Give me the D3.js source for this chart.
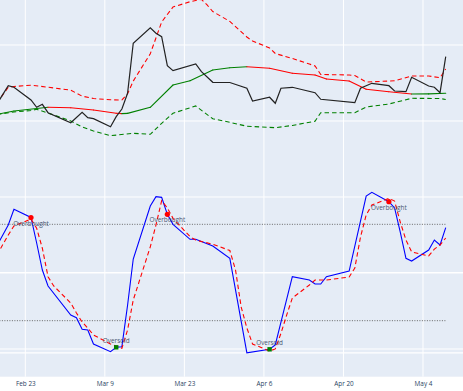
<!DOCTYPE html>
<html><head><meta charset="utf-8">
<script src="https://cdn.jsdelivr.net/npm/d3@7"></script>
<style>body{margin:0;background:#fff}svg{display:block}</style>
</head><body><svg id="c" width="463" height="391"></svg>
<script>
// ---------- data ----------
const priceDates = ["2025-02-18","2025-02-20","2025-02-21","2025-02-24","2025-02-25","2025-02-26","2025-02-27","2025-03-03","2025-03-05","2025-03-06","2025-03-07","2025-03-10","2025-03-11","2025-03-12","2025-03-13","2025-03-14","2025-03-17","2025-03-18","2025-03-19","2025-03-20","2025-03-21","2025-03-25","2025-03-26","2025-03-28","2025-03-31","2025-04-03","2025-04-04","2025-04-07","2025-04-08","2025-04-09","2025-04-11","2025-04-15","2025-04-16","2025-04-22","2025-04-23","2025-04-25","2025-04-28","2025-04-29","2025-05-01","2025-05-02","2025-05-05","2025-05-06","2025-05-07","2025-05-08"];
const price = [104.47,109.29,108.87,105.53,103.61,104.39,102.18,99.55,102.29,100.87,100.61,98.5,101.13,103.16,107.29,120.45,124.55,123.08,122.18,114.55,113.24,115.0,112.97,110.18,110.13,108.61,105.26,106.24,104.66,108.61,108.87,107.45,105.71,104.82,108.61,109.92,109.29,107.89,107.71,111.5,109.21,108.87,107.45,116.92];

const maDates = ["2025-02-18","2025-02-21","2025-02-25","2025-02-27","2025-03-03","2025-03-07","2025-03-11","2025-03-12","2025-03-13","2025-03-17","2025-03-21","2025-03-24","2025-03-28","2025-03-31","2025-04-03","2025-04-07","2025-04-11","2025-04-15","2025-04-17","2025-04-21","2025-04-24","2025-04-28","2025-05-02","2025-05-05","2025-05-08"];
const ma = [101.76,102.63,103.29,103.61,103.5,102.89,102.03,101.95,102.0,103.61,109.47,110.61,113.42,114.03,114.29,113.87,112.55,112.11,111.05,110.53,108.34,107.71,107.11,107.13,107.29];

const upperDates = ["2025-02-18","2025-02-20","2025-02-21","2025-02-24","2025-02-27","2025-03-03","2025-03-05","2025-03-07","2025-03-10","2025-03-12","2025-03-13","2025-03-14","2025-03-17","2025-03-19","2025-03-21","2025-03-24","2025-03-26","2025-03-27","2025-03-28","2025-03-31","2025-04-03","2025-04-04","2025-04-07","2025-04-08","2025-04-11","2025-04-14","2025-04-15","2025-04-16","2025-04-21","2025-04-22","2025-04-24","2025-04-29","2025-05-02","2025-05-05","2025-05-07","2025-05-08"];
const upper = [104.74,108.87,109.08,109.42,108.89,108.11,106.53,105.92,105.58,105.53,107.16,110.5,117.7,126.05,130.0,131.39,132.0,130.53,128.8,126.2,122.1,121.05,119.21,117.76,116.45,115.0,114.47,112.24,112.11,111.97,110.26,110.58,111.84,111.84,111.39,113.68];

const lowerDates = ["2025-02-18","2025-02-21","2025-02-24","2025-02-25","2025-02-28","2025-03-03","2025-03-05","2025-03-07","2025-03-10","2025-03-14","2025-03-17","2025-03-19","2025-03-21","2025-03-25","2025-03-28","2025-03-31","2025-04-03","2025-04-08","2025-04-11","2025-04-15","2025-04-16","2025-04-22","2025-04-24","2025-04-28","2025-05-02","2025-05-07","2025-05-08"];
const lower = [101.71,102.37,102.76,103.08,101.58,100.0,98.42,97.37,96.13,96.76,96.5,99.39,102.03,103.95,100.58,99.66,98.61,98.24,98.82,99.95,102.18,102.18,103.68,104.47,105.97,105.92,105.66];

const kDates = ["2025-02-18","2025-02-20","2025-02-21","2025-02-24","2025-02-25","2025-02-26","2025-02-27","2025-03-03","2025-03-04","2025-03-05","2025-03-06","2025-03-07","2025-03-10","2025-03-11","2025-03-12","2025-03-13","2025-03-14","2025-03-17","2025-03-18","2025-03-19","2025-03-20","2025-03-21","2025-03-24","2025-03-25","2025-03-28","2025-03-31","2025-04-03","2025-04-07","2025-04-08","2025-04-11","2025-04-14","2025-04-15","2025-04-16","2025-04-17","2025-04-21","2025-04-24","2025-04-25","2025-04-28","2025-04-29","2025-04-30","2025-05-01","2025-05-02","2025-05-05","2025-05-06","2025-05-07","2025-05-08"];
const stochK = [66.7,79.58,89.35,84.25,68.37,51.56,41.59,23.54,21.86,14.63,14.2,5.48,0.68,3.42,3.8,29.6,58.4,91.4,97.2,96.8,86.2,80.0,70.67,70.67,66.5,58.84,0.0,2.18,4.86,47.38,45.33,42.84,42.84,47.38,50.93,97.6,99.9,94.1,90.2,75.2,58.8,57.16,64.0,70.2,67.1,77.9];

const dDates = ["2025-02-18","2025-02-20","2025-02-21","2025-02-24","2025-02-25","2025-02-26","2025-02-27","2025-02-28","2025-03-03","2025-03-04","2025-03-05","2025-03-06","2025-03-07","2025-03-10","2025-03-11","2025-03-12","2025-03-13","2025-03-14","2025-03-17","2025-03-18","2025-03-19","2025-03-20","2025-03-21","2025-03-24","2025-03-25","2025-03-28","2025-03-31","2025-04-01","2025-04-02","2025-04-03","2025-04-04","2025-04-07","2025-04-08","2025-04-09","2025-04-10","2025-04-11","2025-04-14","2025-04-15","2025-04-17","2025-04-21","2025-04-22","2025-04-23","2025-04-24","2025-04-25","2025-04-28","2025-04-29","2025-04-30","2025-05-01","2025-05-02","2025-05-05","2025-05-06","2025-05-07","2025-05-08"];
const stochD = [60.9,73.35,78.95,83.3,77.5,65.1,47.4,41.6,31.0,24.8,19.2,15.4,11.1,5.5,4.2,2.8,14.2,32.9,66.0,79.6,94.7,90.2,83.7,72.3,70.2,67.6,63.7,51.6,28.5,15.4,5.5,1.1,2.4,12.1,23.5,34.1,42.2,45.3,45.3,47.2,52.8,72.1,85.8,92.0,96.2,94.5,81.4,70.2,62.8,60.3,64.6,67.1,71.5];

const overboughtDates = ["2025-02-24","2025-03-20","2025-04-28"];
const oversoldDates = ["2025-03-11","2025-04-07"];
const levels = [80, 20];
const tickDates = ["2025-02-23","2025-03-09","2025-03-23","2025-04-06","2025-04-20","2025-05-04"];
const priceGrid = [40,60,80,100,120];
const stochGrid = [0,50];

// ---------- layout ----------
const W = 463, plotH = 376.7;
const parse = d3.timeParse("%Y-%m-%d");
const parseT = d3.timeParse("%Y-%m-%d %H:%M");
const x = d3.scaleTime()
  .domain([parseT("2025-02-18 13:06"), parseT("2025-05-11 01:00")])
  .range([0, W]);
const yTop = d3.scaleLinear().domain([32.71, 131.84]).range([plotH, 0]);
const yStoch = d3.scaleLinear().domain([0, 100]).range([352.8, 192.2]);

const svg = d3.select("#c");
svg.append("defs").append("clipPath").attr("id","clip")
  .append("rect").attr("x",0).attr("y",0).attr("width",W).attr("height",plotH);

svg.append("rect").attr("x",0).attr("y",0).attr("width",W).attr("height",plotH).attr("fill","#E5ECF6");

const grid = svg.append("g");
const tD = tickDates.map(parse);
grid.selectAll("line.v").data(tD).join("line")
  .attr("x1",d=>x(d)).attr("x2",d=>x(d)).attr("y1",0).attr("y2",plotH)
  .attr("stroke","#fff").attr("stroke-width",1);
grid.selectAll("line.h").data(priceGrid).join("line")
  .attr("x1",0).attr("x2",W).attr("y1",d=>yTop(d)).attr("y2",d=>yTop(d))
  .attr("stroke","#fff").attr("stroke-width",1);
grid.selectAll("line.s").data(stochGrid).join("line")
  .attr("x1",0).attr("x2",W).attr("y1",d=>yStoch(d)).attr("y2",d=>yStoch(d))
  .attr("stroke","#fff").attr("stroke-width",d=>d===0?1.3:1);

// x axis labels
const xAxis = d3.axisBottom(x).tickValues(tD).tickFormat(d3.timeFormat("%b %-d")).tickSize(0).tickPadding(0);
const ax = svg.append("g").attr("transform",`translate(0,${plotH})`).call(xAxis);
ax.select(".domain").remove();
ax.selectAll("text").attr("y",5).attr("dy","0.71em")
  .attr("font-family","'Open Sans', sans-serif").attr("font-size","6.4px").attr("fill","#2a3f5f");

const plot = svg.append("g").attr("clip-path","url(#clip)");

function series(dates, vals){ return dates.map((d,i)=>({d:parse(d), v:vals[i]})); }
const lineTop = d3.line().x(p=>x(p.d)).y(p=>yTop(p.v));
const lineSt = d3.line().x(p=>x(p.d)).y(p=>yStoch(p.v));

// bands
plot.append("path").datum(series(upperDates, upper)).attr("d",lineTop)
  .attr("fill","none").attr("stroke","red").attr("stroke-width",1.1).attr("stroke-dasharray","4.5,3");
plot.append("path").datum(series(lowerDates, lower)).attr("d",lineTop)
  .attr("fill","none").attr("stroke","green").attr("stroke-width",1.1).attr("stroke-dasharray","4.5,3");

// moving average: each segment green when rising, red when falling
const maS = series(maDates, ma);
for (let i=0;i<maS.length-1;i++){
  const rising = maS[i+1].v >= maS[i].v;
  plot.append("path").datum([maS[i],maS[i+1]]).attr("d",lineTop)
    .attr("fill","none").attr("stroke", rising ? "green" : "red").attr("stroke-width",1.1)
    .attr("stroke-linecap","round");
}

// price
plot.append("path").datum(series(priceDates, price)).attr("d",lineTop)
  .attr("fill","none").attr("stroke","#222").attr("stroke-width",1.2);

// stochastic levels
const firstD = parse(kDates[0]), lastD = parse(kDates[kDates.length-1]);
plot.selectAll("line.lvl").data(levels).join("line")
  .attr("x1",x(firstD)).attr("x2",x(lastD)).attr("y1",d=>yStoch(d)).attr("y2",d=>yStoch(d))
  .attr("stroke","#666").attr("stroke-width",1).attr("stroke-dasharray","1,1.5");

const kS = series(kDates, stochK);
plot.append("path").datum(kS).attr("d",lineSt)
  .attr("fill","none").attr("stroke","blue").attr("stroke-width",1.1);
plot.append("path").datum(series(dDates, stochD)).attr("d",lineSt)
  .attr("fill","none").attr("stroke","red").attr("stroke-width",1.1).attr("stroke-dasharray","4.5,3");

// signals
const kMap = new Map(kDates.map((d,i)=>[d, stochK[i]]));
const ob = overboughtDates.map(d=>({d:parse(d), v:kMap.get(d)}));
const os = oversoldDates.map(d=>({d:parse(d), v:kMap.get(d)}));
const txt = {"font-family":"'Open Sans', sans-serif","font-size":"6.4px","fill":"#4a5670"};

plot.selectAll("circle.ob").data(ob).join("circle")
  .attr("cx",p=>x(p.d)).attr("cy",p=>yStoch(p.v)).attr("r",2.6).attr("fill","red");
const obT = plot.selectAll("text.ob").data(ob).join("text")
  .attr("x",p=>x(p.d)).attr("y",p=>yStoch(p.v)+5.6).attr("text-anchor","middle")
  .attr("dominant-baseline","central").text("Overbought");
plot.selectAll("rect.os").data(os).join("rect")
  .attr("x",p=>x(p.d)-2.2).attr("y",p=>yStoch(p.v)-2.2).attr("width",4.4).attr("height",4.4).attr("fill","green");
const osT = plot.selectAll("text.os").data(os).join("text")
  .attr("x",p=>x(p.d)).attr("y",p=>yStoch(p.v)-6.4).attr("text-anchor","middle")
  .attr("dominant-baseline","central").text("Oversold");
for (const [k,v] of Object.entries(txt)){ obT.attr(k,v); osT.attr(k,v); }
</script>
</body></html>
